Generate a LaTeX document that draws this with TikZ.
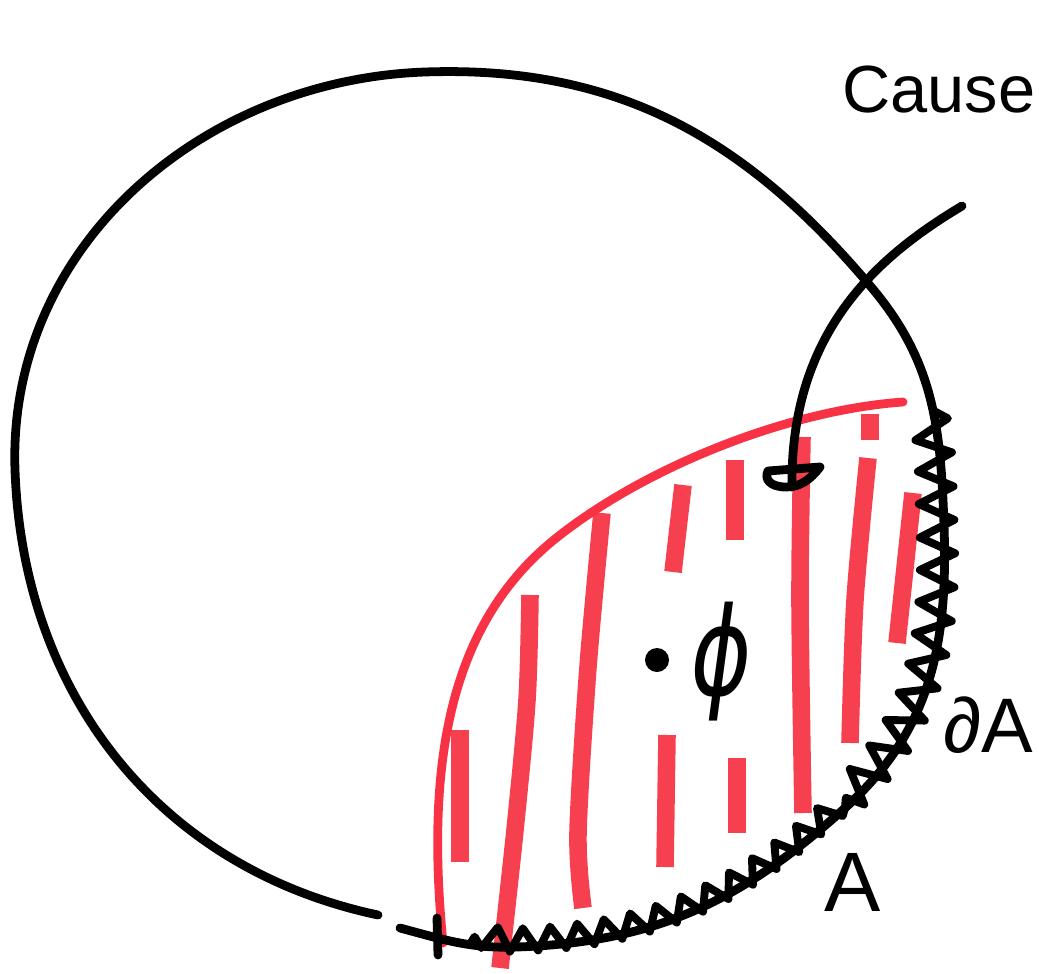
\documentclass[tikz,border=0pt]{standalone}
\usepackage{fontspec}
\setmainfont{Liberation Sans}
\newfontfamily\dejavu{DejaVu Sans}
\usetikzlibrary{decorations.pathmorphing}
\definecolor{penred}{RGB}{248,50,68}
\definecolor{stripered}{RGB}{246,48,64}
\tikzset{
  ink/.style={line width=5pt, line cap=round, line join=round, black},
  redink/.style={line width=5pt, line cap=round, penred},
  stripe/.style={line width=10pt, line cap=butt, stripered, opacity=0.92},
  lbl/.style={inner sep=0pt, font=\fontsize{44}{44}\selectfont}
}
\begin{document}
\begin{tikzpicture}[x=0.02cm, y=-0.02cm]
\useasboundingbox (0,0) rectangle (1039,974);
\clip (0,0) rectangle (1039,974);
% red hatching stripes
\draw[stripe] (460,730) -- (460,862);
\draw[stripe] plot[smooth] coordinates {(530,595) (527,700) (515,830) (500,968)};
\draw[stripe] plot[smooth] coordinates {(602,513) (588,667) (578,833) (583,908)};
\draw[stripe] (683,485) -- (673,572);
\draw[stripe] (735,460) -- (735,540);
\draw[stripe] (667,735) -- (665,867);
\draw[stripe] (737,758) -- (737,833);
\draw[stripe] plot[smooth] coordinates {(802,437) (800,600) (803,813)};
\draw[stripe] (870,414) -- (870,440);
\draw[stripe] plot[smooth] coordinates {(868,458) (855,600) (850,743)};
\draw[stripe] (913,493) -- (897,643);
% red boundary of the region
\draw[redink] (443,943) .. controls (425,760) and (450,620) .. (560,535)
  .. controls (650,465) and (790,410) .. (903,402);
% big circle
\draw[ink] (378,915) to[out=168,in=-88] (15,470) to[out=92,in=182] (425,72)
  to[out=2,in=130] (872,288) to[out=-50,in=92] (944,525)
  to[out=-88,in=42] (845,808) to[out=-138,in=2] (517,947)
  to[out=182,in=-15] (400,928);
% zigzag boundary dA
\draw[ink, line width=4.5pt, decorate, decoration={zigzag, amplitude=10pt, segment length=19pt, raise=-4pt}]
  (936,412) to[out=-80,in=92] (944,525) to[out=-88,in=42] (845,808);
\draw[ink, line width=4.5pt, decorate, decoration={zigzag, amplitude=6.5pt, segment length=16pt, raise=-4pt}]
  (845,808) to[out=-138,in=2] (517,947) to[out=182,in=5] (470,944);
\draw[ink] (437,918) -- (438,955);
% "Cause" arrow
\coordinate (cs) at (962,206);
\coordinate (ce) at (792,487);
\draw[ink] (cs) .. controls (880,255) and (790,330) .. (ce);
\draw[ink] (768,471) -- (820,467) .. controls (810,480) and (800,487) .. (786,487) .. controls (770,487) and (764,479) .. (768,471);
% point and phi
\fill (657,660) circle (12);
\node[inner sep=0pt, font=\dejavu\fontsize{70}{70}\selectfont, xscale=0.75, xslant=0.18, transform shape] (phi) at (722,662) {ϕ};
% labels
\node[lbl] (dA) at (988,725) {∂A};
\node[lbl, font=\fontsize{48}{48}\selectfont] (A) at (853,882) {A};
\node[inner sep=0pt, anchor=west, font=\fontsize{38}{38}\selectfont] (cause) at (842,90) {Cause};
\end{tikzpicture}
\end{document}
